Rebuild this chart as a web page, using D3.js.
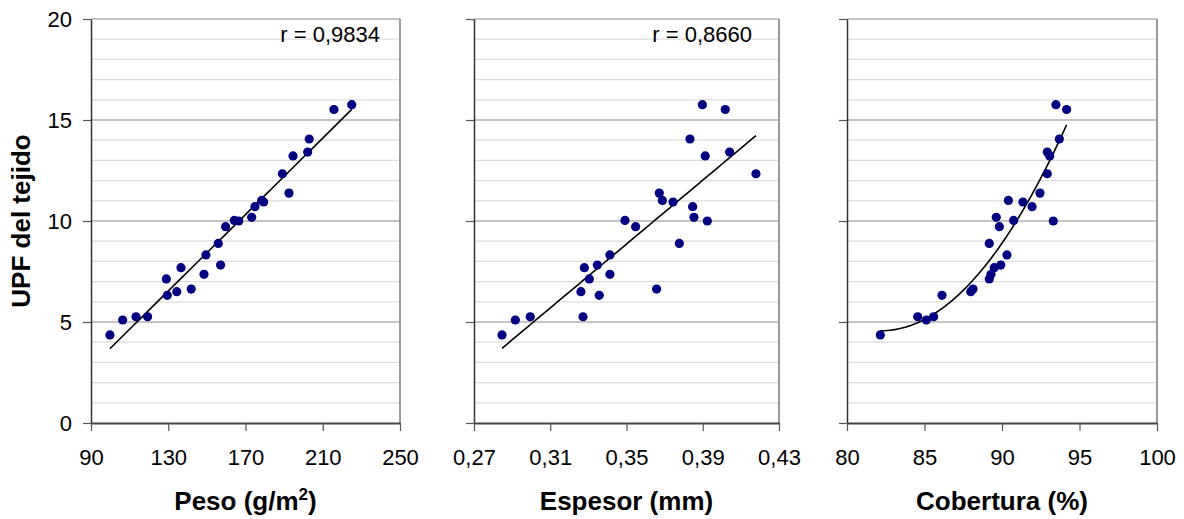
<!DOCTYPE html>
<html>
<head>
<meta charset="utf-8">
<script src="https://cdn.jsdelivr.net/npm/d3@7"></script>
<style>
  body { margin: 0; background: #fff; }
  svg { font-family: "Liberation Sans", Arial, sans-serif; }
</style>
</head>
<body>
<svg id="chart" width="1184" height="519"></svg>
<script>
// UPF of each fabric, and its weight, thickness and cover factor
var upf       = [4.36, 5.10, 5.26, 5.26, 7.13, 6.32, 6.50, 7.69, 6.63, 7.36, 8.32, 7.82, 8.89, 9.72,
                 10.03, 10.00, 10.18, 10.71, 11.02, 10.94, 11.38, 12.34, 13.22, 13.41, 14.06, 15.52, 15.76];
var peso      = [99.8, 106.4, 113.3, 119.3, 129.0, 129.5, 134.4, 136.6, 141.9, 148.5, 149.5, 157.1, 155.9, 159.7,
                 164.2, 166.5, 173.2, 174.9, 178.4, 179.4, 192.5, 189.1, 194.6, 202.2, 203.0, 215.8, 225.0];
var espesor   = [0.2847, 0.2917, 0.2995, 0.3272, 0.3305, 0.3357, 0.3261, 0.3279, 0.3658, 0.3413, 0.3413, 0.3347, 0.3777, 0.3548,
                 0.3492, 0.3924, 0.3854, 0.3847, 0.3688, 0.3744, 0.3672, 0.4179, 0.3913, 0.4041, 0.3833, 0.4018, 0.3898];
var cobertura = [82.15, 85.12, 84.56, 85.59, 89.18, 86.13, 87.98, 89.50, 88.13, 89.29, 90.32, 89.92, 89.18, 89.83,
                 90.75, 93.31, 89.63, 91.94, 90.41, 91.35, 92.45, 92.92, 93.08, 92.92, 93.70, 94.17, 93.48];

var pesoTicks      = [90, 130, 170, 210, 250];
var espesorTicks   = [0.27, 0.31, 0.35, 0.39, 0.43];
var coberturaTicks = [80, 85, 90, 95, 100];
var upfTicks       = [0, 5, 10, 15, 20];
var rLabels        = ["r = 0,9834", "r = 0,8660", ""];
var fitDegree      = [1, 1, 2];

var svg = d3.select("#chart");
var top0 = 19, bottom0 = 423;

var yScale = d3.scaleLinear()
  .domain([upfTicks[0], upfTicks[upfTicks.length - 1]])
  .range([bottom0, top0]);

var comma = function(f) { return function(d) { return f(d).replace(".", ","); }; };

var panels = [
  { xs: peso, ticks: pesoTicks, left: 91, right: 400, fmt: d3.format("d"),
    title: "Peso (g/m", sup: "2", tail: ")", rx: 380 },
  { xs: espesor, ticks: espesorTicks, left: 474, right: 779, fmt: comma(d3.format(".2f")),
    title: "Espesor (mm)", rx: 752 },
  { xs: cobertura, ticks: coberturaTicks, left: 847, right: 1157, fmt: d3.format("d"),
    title: "Cobertura (%)", rx: 0 }
];

// least squares polynomial, x centred for stability
function polyfit(xs, ys, deg) {
  var m = d3.mean(xs);
  var n = deg + 1, A = [], i, j, k;
  for (i = 0; i < n; i++) {
    A.push([]);
    for (j = 0; j <= n; j++) A[i].push(0);
  }
  xs.forEach(function(x, p) {
    var u = x - m;
    for (i = 0; i < n; i++) {
      for (j = 0; j < n; j++) A[i][j] += Math.pow(u, i + j);
      A[i][n] += ys[p] * Math.pow(u, i);
    }
  });
  for (i = 0; i < n; i++) {
    for (k = i + 1; k < n; k++) {
      var f = A[k][i] / A[i][i];
      for (j = i; j <= n; j++) A[k][j] -= f * A[i][j];
    }
  }
  var c = new Array(n);
  for (i = n - 1; i >= 0; i--) {
    var s = A[i][n];
    for (j = i + 1; j < n; j++) s -= A[i][j] * c[j];
    c[i] = s / A[i][i];
  }
  return function(x) {
    var u = x - m, y = 0;
    for (var q = 0; q < n; q++) y += c[q] * Math.pow(u, q);
    return y;
  };
}

panels.forEach(function(p, pi) {
  var xScale = d3.scaleLinear()
    .domain([p.ticks[0], p.ticks[p.ticks.length - 1]])
    .range([p.left, p.right]);

  var g = svg.append("g");

  // gridlines, one per unit, darker every 5
  g.selectAll(".grid")
    .data(d3.range(1, 21))
    .enter()
    .append("line")
    .attr("x1", p.left)
    .attr("x2", p.right)
    .attr("y1", function(d) { return yScale(d); })
    .attr("y2", function(d) { return yScale(d); })
    .attr("stroke", function(d) { return d % 5 === 0 ? "#b0b0b0" : "#dcdcdc"; })
    .attr("stroke-width", function(d) { return d % 5 === 0 ? 1.5 : 1.2; });

  // right border
  g.append("line")
    .attr("x1", p.right).attr("x2", p.right)
    .attr("y1", top0).attr("y2", bottom0)
    .attr("stroke", "#9a9a9a")
    .attr("stroke-width", 2);

  var yAxis = d3.axisLeft(yScale)
    .tickValues(upfTicks)
    .tickSize(8)
    .tickSizeOuter(0)
    .tickPadding(11)
    .tickFormat(pi === 0 ? d3.format("d") : function() { return ""; });

  var ya = g.append("g")
    .attr("transform", "translate(" + p.left + ",0)")
    .call(yAxis);
  ya.select(".domain").attr("stroke", "#333").attr("stroke-width", 1.5);
  ya.selectAll(".tick line").attr("stroke", "#555").attr("stroke-width", 1.2);
  ya.selectAll("text").attr("font-size", "22px").attr("fill", "#000")
    .attr("font-family", "Liberation Sans, Arial, sans-serif");

  var xAxis = d3.axisBottom(xScale)
    .tickValues(p.ticks)
    .tickSize(8)
    .tickSizeOuter(0)
    .tickPadding(18)
    .tickFormat(p.fmt);

  var xa = g.append("g")
    .attr("transform", "translate(0," + bottom0 + ")")
    .call(xAxis);
  xa.select(".domain").attr("stroke", "#444").attr("stroke-width", 2);
  xa.selectAll(".tick line").attr("stroke", "#555").attr("stroke-width", 1.2);
  xa.selectAll("text").attr("font-size", "22px").attr("fill", "#000")
    .attr("font-family", "Liberation Sans, Arial, sans-serif");

  // trend line / curve
  var fit = polyfit(p.xs, upf, fitDegree[pi]);
  var x0 = d3.min(p.xs), x1 = d3.max(p.xs);
  var pts = d3.range(0, 61).map(function(i) {
    var x = x0 + (x1 - x0) * i / 60;
    return [xScale(x), yScale(fit(x))];
  });
  g.append("path")
    .attr("d", d3.line().curve(d3.curveLinear)(pts))
    .attr("fill", "none")
    .attr("stroke", "#000")
    .attr("stroke-width", 1.6);

  // points
  g.selectAll("circle")
    .data(p.xs)
    .enter()
    .append("circle")
    .attr("cx", function(d) { return xScale(d); })
    .attr("cy", function(d, i) { return yScale(upf[i]); })
    .attr("r", 4.6)
    .attr("fill", "#000080");

  if (rLabels[pi]) {
    g.append("text")
      .attr("x", p.rx)
      .attr("y", 42)
      .attr("text-anchor", "end")
      .attr("font-size", "22px")
      .text(rLabels[pi]);
  }

  // axis title
  var t = g.append("text")
    .attr("x", (p.left + p.right) / 2)
    .attr("y", 510)
    .attr("text-anchor", "middle")
    .attr("font-size", "26px")
    .attr("font-weight", "bold")
    .text(p.title);
  if (p.sup) {
    t.append("tspan").attr("font-size", "17px").attr("dy", -10).text(p.sup);
    t.append("tspan").attr("dy", 10).text(p.tail);
  }
});

svg.append("text")
  .attr("transform", "translate(30," + (top0 + bottom0) / 2 + ") rotate(-90)")
  .attr("text-anchor", "middle")
  .attr("font-size", "26px")
  .attr("font-weight", "bold")
  .text("UPF del tejido");
</script>
</body>
</html>
